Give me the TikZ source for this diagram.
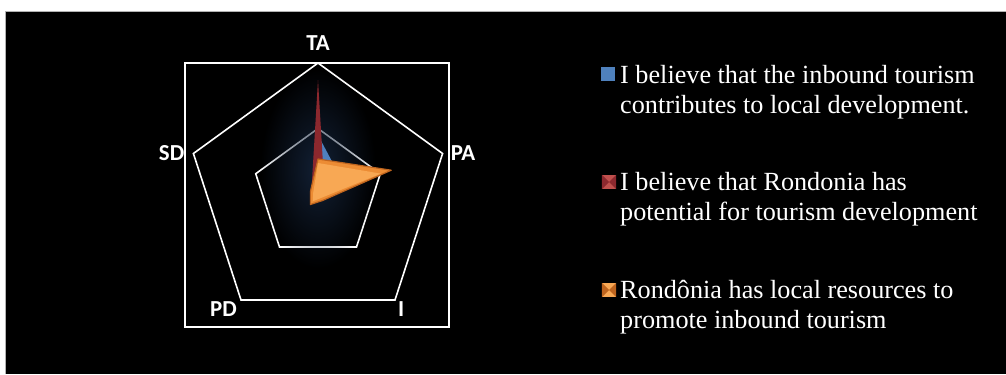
\documentclass[tikz,border=0pt]{standalone}
\usepackage{fontspec}
\setmainfont{Liberation Serif}
\newfontfamily\axfont{Carlito}
\usetikzlibrary{positioning, fadings}
\definecolor{serblue}{RGB}{79,129,189}
\definecolor{serred}{RGB}{140,40,46}
\definecolor{serredl}{RGB}{192,80,77}
\definecolor{serorange}{RGB}{236,140,52}
\definecolor{serorangel}{RGB}{248,168,84}
\definecolor{serorangd}{RGB}{190,100,30}
\definecolor{glow}{RGB}{22,38,62}
\tikzfading[name=glowfade, inner color=transparent!0, outer color=transparent!100]
\tikzstyle{grid}=[white,line width=1.6bp,line join=miter]
\tikzstyle{axl}=[white,inner sep=0pt,font=\axfont\bfseries\fontsize{23}{23}\selectfont]
\tikzstyle{leg}=[white,anchor=north west,align=left,inner sep=0pt,font=\fontsize{26.3}{30}\selectfont]
\tikzstyle{key}=[minimum size=14bp,inner sep=0pt]

\begin{document}
\begin{tikzpicture}[x=1bp,y=1bp]
\useasboundingbox (0,0) rectangle (1006,374);
\fill[white] (0,0) rectangle (1006,374);
\fill[black] (6,0) rectangle (1006,362);
\draw[gray!60,line width=1bp] (5.5,0) -- (5.5,362.5) -- (1006,362.5);

% axes of the radar
\coordinate (c) at (318,180);
\foreach \n/\a in {TA/90, PA/18, I/-54, PD/-126, SD/162} {
    \coordinate (\n) at ([shift={(\a:131)}]c);
    \coordinate (\n2) at ([shift={(\a:65.5)}]c);
}
\draw[grid] (185,47) rectangle (449,311);
\draw[grid] (TA) -- (PA) -- (I) -- (PD) -- (SD) -- cycle;
\draw[grid] (TA2) -- (PA2) -- (I2) -- (PD2) -- (SD2) -- cycle;
\fill[glow,path fading=glowfade,fill opacity=0.85] (318,205) ellipse (58 and 100);

% series
\fill[serblue] ([shift={(90:59)}]c) -- ([shift={(18:28)}]c) -- ([shift={(-54:6)}]c)
    -- ([shift={(-126:6)}]c) -- ([shift={(162:6)}]c) -- cycle;
\fill[serred] ([shift={(90:114)}]c) -- ([shift={(18:7)}]c) -- ([shift={(-54:5)}]c)
    -- ([shift={(-126:5)}]c) -- ([shift={(162:7)}]c) -- cycle;
\filldraw[fill=serorange,draw=serorangd,line width=1.2bp,line join=round]
    ([shift={(90:35)}]c) -- ([shift={(18:77)}]c) -- ([shift={(-54:8)}]c)
    -- ([shift={(-126:13)}]c) -- ([shift={(162:8)}]c) -- cycle;
\fill[serorangel] ([shift={(90:31)}]c) -- ([shift={(18:66)}]c) -- ([shift={(-54:5)}]c)
    -- ([shift={(-126:9)}]c) -- ([shift={(162:5)}]c) -- cycle;

% axis labels
\node[axl,above=12bp of TA] (lTA) {TA};
\node[axl,right=8bp of PA] (lPA) {PA};
\node[axl,left=9bp of SD] (lSD) {SD};
\node[axl,anchor=north east] (lPD) at ([xshift=-4bp,yshift=-1bp]PD) {PD};
\node[axl,anchor=north west] (lI) at ([xshift=3bp,yshift=-1bp]I) {I};

% legend
\node[key,fill=serblue] (k1) at (608,300) {};
\node[key,fill=serredl] (k2) at (609,192) {};
\node[key,fill=serorangel] (k3) at (609,84) {};
\foreach \k/\d in {k2/serred, k3/serorangd} {
    \fill[\d] (\k.north west) -- (\k.center) -- (\k.south west) -- cycle;
    \fill[\d] (\k.north east) -- (\k.center) -- (\k.south east) -- cycle;
}
\node[leg] (t1) at (620,309) {I believe that the inbound tourism\\contributes to local development.};
\node[leg] (t2) at (620,202) {I believe that Rondonia has\\potential for tourism development};
\node[leg] (t3) at (620,94) {Rondônia has local resources to\\promote inbound tourism};
\end{tikzpicture}
\end{document}
